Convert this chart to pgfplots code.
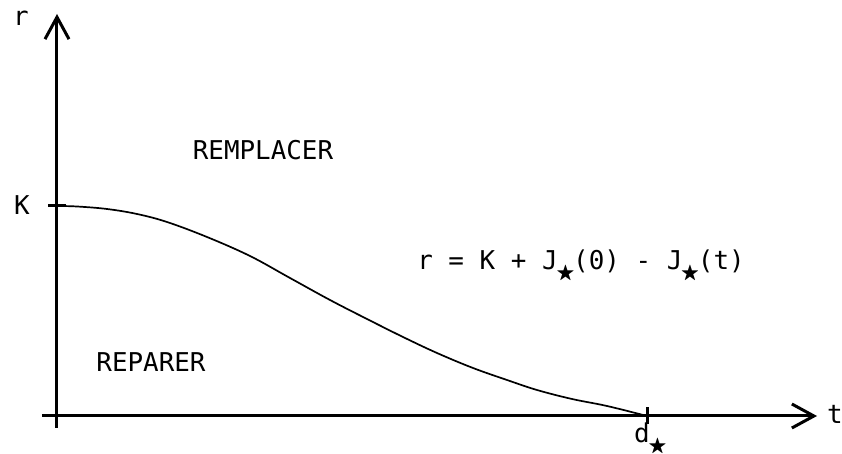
\documentclass[border=0pt]{standalone}
\usepackage{pgfplots}
\pgfplotsset{compat=1.18}
\usepackage{amssymb}
\usepackage{fontspec}
\usetikzlibrary{arrows.meta}
\newfontfamily\tw{DejaVu Sans Mono}
% filled star subscript, one monospace cell wide
\newcommand\st{\makebox[0.6em]{\raisebox{-0.32em}{\scalebox{0.75}{$\bigstar$}}}}
\tikzset{lab/.style={font=\tw\fontsize{26}{30}\selectfont, inner sep=0pt, text=black}}

\begin{document}
\begin{tikzpicture}
\begin{axis}[
  x=1bp, y=1bp,
  axis lines=middle,
  xmin=-15, xmax=760,
  ymin=-12, ymax=402,
  xtick={590}, ytick={210},
  xticklabels={}, yticklabels={},
  major tick length=17bp,
  tick align=center,
  tick style={line width=3bp, black},
  axis line style={line width=3bp, black, -{Straight Barb[length=22bp,width=24bp,line width=3bp]}},
  clip=false,
]
\addplot[black, line width=1.7bp, smooth, tension=0.6] coordinates {
  (0,210) (20,209.5) (50,207) (80,202) (110,194) (150,179) (193,160)
  (233,138) (273,116) (310,97) (346,79) (380,63) (416,48) (450,36)
  (480,26) (515,17) (550,10) (590,0)
};
\node[lab] at (axis cs:-36,398) {r};
\node[lab] at (axis cs:-35,211) {K};
\node[lab] at (axis cs:778,2) {t};
\node[lab, anchor=north west] at (axis cs:577,-7) {d\st};
\node[lab] at (axis cs:206,266) {REMPLACER};
\node[lab] at (axis cs:94,54) {REPARER};
\node[lab] at (axis cs:524,150) {r = K + J\st(0) - J\st(t)};
\coordinate (bl) at (axis cs:-57,-38);
\coordinate (tr) at (axis cs:785,416);
\end{axis}
\pgfresetboundingbox
\path[use as bounding box] (bl) rectangle (tr);
\end{tikzpicture}
\end{document}
